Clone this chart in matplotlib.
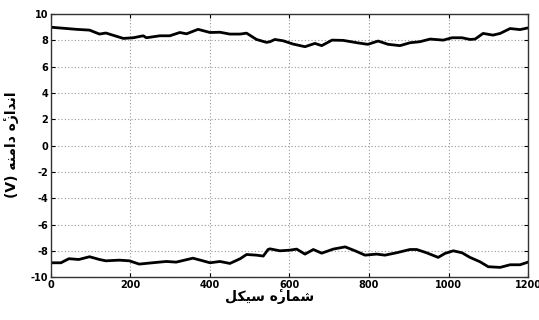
import matplotlib
matplotlib.use("Agg")
import matplotlib.pyplot as plt

plt.rcParams['axes.unicode_minus'] = False

# Cycle number vs. amplitude of the upper and lower envelopes
upperCycles = [0, 64, 97, 122, 138, 182, 207, 232, 240, 274, 299, 324, 341, 370, 400, 425,
               450, 476, 492, 517, 542, 551, 563, 584, 609, 639, 664, 681, 707, 735, 770, 797,
               823, 848, 878, 903, 928, 954, 987, 1009, 1034, 1054, 1067, 1087, 1112, 1130,
               1155, 1180, 1200]
upperAmp = [9.0, 8.84, 8.78, 8.48, 8.56, 8.15, 8.2, 8.35, 8.2, 8.35, 8.35, 8.6, 8.5, 8.84, 8.6,
            8.62, 8.48, 8.48, 8.55, 8.07, 7.85, 7.9, 8.07, 7.97, 7.72, 7.52, 7.77, 7.6, 8.02,
            8.0, 7.82, 7.7, 7.95, 7.7, 7.6, 7.82, 7.9, 8.1, 8.02, 8.2, 8.2, 8.07, 8.1, 8.53,
            8.4, 8.53, 8.9, 8.82, 8.95]

lowerCycles = [0, 25, 45, 70, 97, 122, 138, 172, 197, 222, 255, 290, 315, 357, 382, 400, 425,
               450, 476, 492, 517, 534, 546, 551, 576, 601, 618, 639, 660, 681, 710, 740, 765,
               790, 819, 840, 869, 903, 920, 945, 974, 991, 1012, 1034, 1054, 1079, 1100, 1130,
               1155, 1180, 1200]
lowerAmp = [-8.91, -8.91, -8.6, -8.66, -8.45, -8.66, -8.76, -8.71, -8.76, -9.01, -8.91, -8.81,
            -8.86, -8.56, -8.76, -8.91, -8.81, -8.96, -8.6, -8.28, -8.33, -8.4, -7.9, -7.85,
            -8.0, -7.95, -7.87, -8.25, -7.9, -8.18, -7.87, -7.7, -8.0, -8.33, -8.25, -8.33,
            -8.15, -7.9, -7.9, -8.15, -8.5, -8.2, -8.0, -8.15, -8.5, -8.83, -9.21, -9.26,
            -9.06, -9.06, -8.86]

xTicks = [0, 200, 400, 600, 800, 1000, 1200]
yTicks = [-10, -8, -6, -4, -2, 0, 2, 4, 6, 8, 10]

# Persian labels written as presentation forms in visual order (no shaping in matplotlib)
xLabel = "\uFEDE\uFB91\uFBFF\uFEB3 \uFEE9\u0654\uFEAD\uFE8E\uFEE4\uFEB7"
yLabel = "(V) \uFEEA\uFEE8\uFEE3\uFE8D\uFEA9 \uFEE9\u0654\uFEAF\uFE8D\uFEAA\uFEE7\uFE8D"

fig = plt.figure(figsize=(5.39, 3.2), dpi=100)
ax = fig.add_axes([0.0946, 0.134, 0.885, 0.822])

ax.plot(upperCycles, upperAmp, color="black", linewidth=2.0)
ax.plot(lowerCycles, lowerAmp, color="black", linewidth=2.0)

ax.set_xlim(0, 1200)
ax.set_ylim(-10, 10)
ax.set_xticks(xTicks)
ax.set_yticks(yTicks)
ax.grid(True, linestyle=(0, (1, 2)), color="#999999", linewidth=0.8)
ax.tick_params(direction="in", top=True, right=True, labelsize=7, length=3, pad=2)
for lbl in ax.get_xticklabels() + ax.get_yticklabels():
    lbl.set_fontweight("bold")
for sp in ax.spines.values():
    sp.set_color("#333333")
    sp.set_linewidth(1.0)

fig.text(0.50, 0.072, xLabel, ha="center", va="center", fontsize=10, fontweight="bold",
         family=["DejaVu Sans", "Noto Sans"])
fig.text(0.022, 0.547, yLabel, ha="center", va="center", rotation=90, fontsize=10,
         fontweight="bold", family=["DejaVu Sans", "Noto Sans"])

fig.savefig("out.png", dpi=100)
